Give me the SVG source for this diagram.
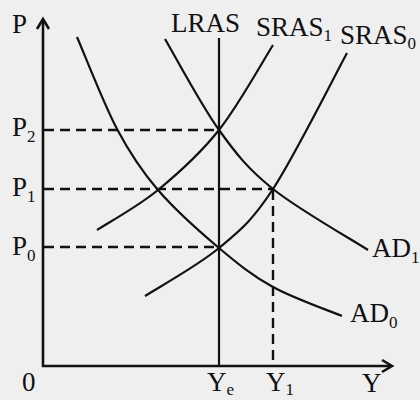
<svg xmlns="http://www.w3.org/2000/svg" width="420" height="400" viewBox="0 0 420 400">
<style>
text{font-family:"Liberation Serif","Times New Roman",serif;font-size:27px;fill:#111}
.sub{font-size:17px}
.axis{stroke:#111;stroke-width:2.6;fill:none}
.curve{stroke:#111;stroke-width:2.2;fill:none}
.dash{stroke:#111;stroke-width:2.4;stroke-dasharray:10 6;fill:none}
</style>
<rect width="420" height="400" fill="#efefef"/>
<g id="axes">
<polyline class="axis" points="43,20 43,366 391,366"/>
<polyline class="axis" points="37,29 43,19 49,29"/>
<polyline class="axis" points="382,360 392,366 382,372"/>
<text x="12" y="33">P</text>
<text x="22" y="391">0</text>
<text x="362" y="392">Y</text>
</g>
<g id="connectors">
<line class="dash" x1="44" y1="130" x2="219" y2="130"/>
<line class="dash" x1="44" y1="189" x2="273" y2="189"/>
<line class="dash" x1="44" y1="247" x2="219" y2="247"/>
<line class="dash" x1="273" y1="190" x2="273" y2="365"/>
</g>
<g id="LRAS">
<line class="curve" x1="219" y1="38" x2="219" y2="366"/>
<text x="171" y="32">LRAS</text>
</g>
<g id="AD0">
<path class="curve" d="M77,37 C83.7,52.3 103.5,103.5 117,129 C130.5,154.5 141,170.2 158,190 C175,209.8 199.8,231.8 219,248 C238.2,264.2 252.5,275.7 273,287 C293.5,298.3 330.5,311.2 342,316"/>
<text x="350" y="322">AD<tspan class="sub" dy="6">0</tspan></text>
</g>
<g id="AD1">
<path class="curve" d="M165,39 C174,54.2 201,105 219,130 C237,155 248.2,169 273,189 C297.8,209 352.2,239.8 368,250"/>
<text x="372" y="257">AD<tspan class="sub" dy="6">1</tspan></text>
</g>
<g id="SRAS1">
<path class="curve" d="M97,230 C107.2,223.3 137.7,206.7 158,190 C178.3,173.3 199.8,154.2 219,130 C238.2,105.8 264,59.2 273,45"/>
<text x="256" y="36">SRAS<tspan class="sub" dy="5">1</tspan></text>
</g>
<g id="SRAS0">
<path class="curve" d="M145,296 C157.3,288 197.7,265.8 219,248 C240.3,230.2 251.7,221.5 273,189 C294.3,156.5 334.7,75.7 347,53"/>
<text x="340" y="44">SRAS<tspan class="sub" dy="5">0</tspan></text>
</g>
<g id="labels">
<text x="12" y="136">P<tspan class="sub" dy="6">2</tspan></text>
<text x="12" y="196">P<tspan class="sub" dy="6">1</tspan></text>
<text x="12" y="255">P<tspan class="sub" dy="6">0</tspan></text>
<text x="207" y="391">Y<tspan class="sub" dy="4">e</tspan></text>
<text x="266" y="391">Y<tspan class="sub" dy="4">1</tspan></text>
</g>
</svg>
